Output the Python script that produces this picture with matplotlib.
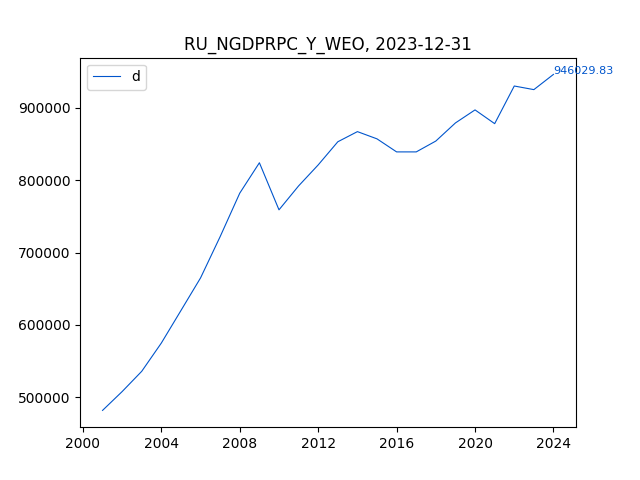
import pandas as pd
import matplotlib
matplotlib.use("Agg")
import matplotlib.pyplot as plt

years = list(range(2001, 2025))
values = [482000, 508000, 536000, 575000, 620000, 665000, 722000, 782000,
          824000, 759000, 792000, 821000, 853000, 867000, 857000, 839000,
          839000, 854000, 879000, 897000, 878000, 930000, 925000, 946029.83]
dates = pd.to_datetime([f"{y}-01-01" for y in years])

color = "#0055cc"
fig, ax = plt.subplots(figsize=(6.4, 4.8), dpi=100)
ax.plot(dates, values, color=color, linewidth=0.8, label="d")
ax.annotate(f"{values[-1]:.2f}", (dates[-1], values[-1]), color=color, fontsize=8)
ax.set_title("RU_NGDPRPC_Y_WEO, 2023-12-31")
ax.legend(loc="upper left")
fig.savefig("out.png")
